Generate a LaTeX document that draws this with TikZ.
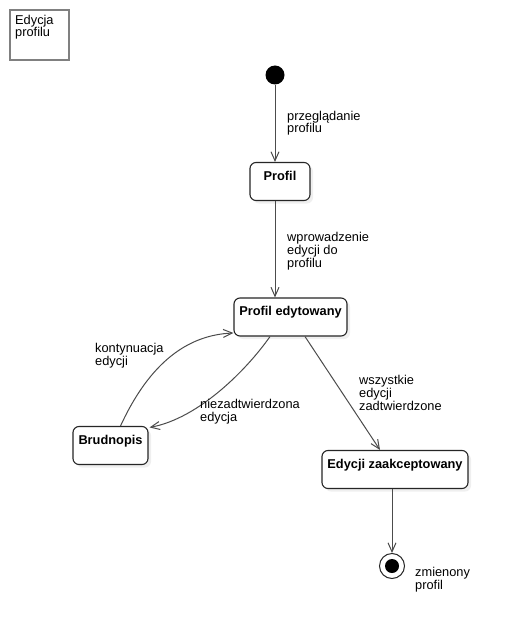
\documentclass[tikz,border=0pt]{standalone}
\usepackage{fontspec}
\setmainfont{Liberation Sans}
\usetikzlibrary{arrows.meta,shadows}
\newcommand{\diagfont}{\fontsize{12.8pt}{12.6pt}\selectfont}

\tikzset{
  state/.style={draw=black!85, line width=1.1pt, rounded corners=6pt, fill=white,
    font=\diagfont\bfseries, inner xsep=4pt, inner ysep=7.5pt,
    text height=10pt, text depth=13pt,
    drop shadow={shadow xshift=3pt, shadow yshift=-3pt, opacity=.12}},
  initial/.style={circle, fill=black, minimum size=19pt, inner sep=0pt},
  final/.style={circle, draw=black!85, line width=1pt, fill=white, minimum size=25pt, inner sep=0pt,
    path picture={\fill[black] (path picture bounding box.center) circle (7pt);}},
  trans/.style={draw=black!70, line width=1pt, -{Straight Barb[length=9pt,width=8pt]}},
  lbl/.style={anchor=base west, align=left, inner sep=0pt, font=\diagfont},
  framebox/.style={draw=black!50, line width=2pt},
}

\begin{document}
\begin{tikzpicture}[x=1pt, y=-1pt]
\useasboundingbox[fill=white] (0,0) rectangle (514,639);

% frame
\draw[framebox] (10,10) rectangle (69,60);
\node[lbl] (title) at (15,37) {Edycja\\profilu};

% states
\node[initial] (init) at (275,75) {};
\node[state, minimum width=60pt] (prof) at (280,181.5) {Profil};
\node[state, minimum width=113pt] (pe) at (290.5,317) {Profil edytowany};
\node[state, minimum width=75pt] (brud) at (110.5,445.5) {Brudnopis};
\node[state, minimum width=146pt] (ez) at (395,469.5) {Edycji zaakceptowany};
\node[final] (fin) at (392,566) {};

% transitions
\draw[trans] (init) -- (init |- prof.north);
\draw[trans] (prof.south -| init) -- (init |- pe.north);
\draw[trans] ([xshift=10pt]brud.north) .. controls (150,362) and (188,335) .. ([yshift=-16pt]pe.west);
\draw[trans] ([xshift=-20.5pt]pe.south) .. controls (248,368) and (200,418) .. ([xshift=1pt,yshift=-1.5pt]brud.north east);
\draw[trans] ([xshift=14.5pt]pe.south) -- ([xshift=-15pt]ez.north);
\draw[trans] (ez.south -| fin) -- (fin);

% labels
\node[lbl] (l1) at (287,133) {przeglądanie\\profilu};
\node[lbl] (l2) at (287,267) {wprowadzenie\\edycji do\\profilu};
\node[lbl] (l3) at (95,365) {kontynuacja\\edycji};
\node[lbl] (l4) at (200,421) {niezadtwierdzona\\edycja};
\node[lbl] (l5) at (359,410) {wszystkie\\edycji\\zadtwierdzone};
\node[lbl] (l6) at (415,589) {zmienony\\profil};
\end{tikzpicture}
\end{document}
